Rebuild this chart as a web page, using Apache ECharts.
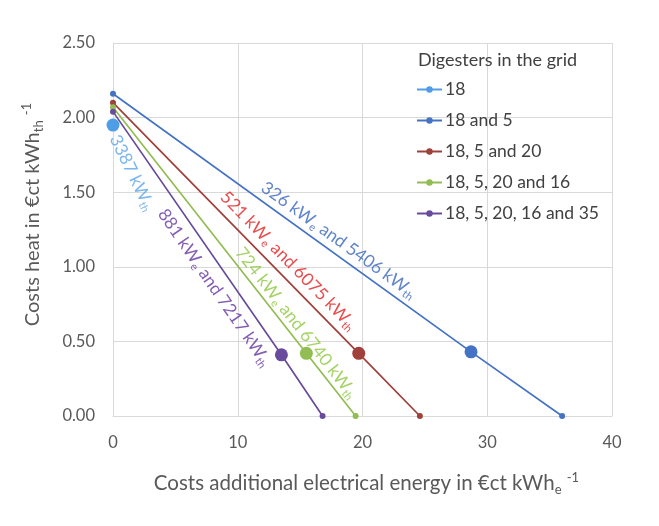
<!DOCTYPE html>
<html><head><meta charset="utf-8">
<script src="https://cdn.jsdelivr.net/npm/echarts@6/dist/echarts.min.js"></script>
<style>html,body{margin:0;padding:0;background:#fff}#c{width:659px;height:526px}</style>
</head><body><div id="c"></div>
<script>
// ---- data ----
const seriesNames = ['18', '18 and 5', '18, 5 and 20', '18, 5, 20 and 16', '18, 5, 20, 16 and 35'];
const elecCosts = [[0], [0, 28.7, 36.0], [0, 19.7, 24.6], [0, 15.5, 19.45], [0, 13.5, 16.8]];
const heatCosts = [[1.95], [2.16, 0.43, 0], [2.10, 0.42, 0], [2.07, 0.42, 0], [2.04, 0.41, 0]];
const operatingPointIndex = [0, 1, 1, 1, 1];
const annotationTexts = [
  '3387 kW{sub|th}',
  '326 kW{sub|e} and 5406 kW{sub|th}',
  '521 kW{sub|e} and 6075 kW{sub|th}',
  '724 kW{sub|e} and 6740 kW{sub|th}',
  '881 kW{sub|e} and 7217 kW{sub|th}'
];
const annotationX = [1.55, 18.1, 14.07, 14.7, 8.15];
const annotationY = [1.63, 1.18, 1.042, 0.625, 0.86];
const xTickValues = [0, 10, 20, 30, 40];
const yTickValues = [0, 0.5, 1, 1.5, 2, 2.5];

// ---- styles ----
const lineColors = ['#4E9DE6', '#4472C4', '#A0403B', '#92BD52', '#684B9C'];
const labelColors = ['#5AA5EA', '#3A67BB', '#E41E1E', '#8CC83F', '#6433A0'];
const labelAngles = [64, 35.7, 45.6, 51.9, 55.6];
const FONT = 'Lato, "Noto Sans", sans-serif';
const gridColor = '#D9D9D9';
const textColor = '#595959';

const chart = echarts.init(document.getElementById('c'), null, {renderer: 'canvas'});

const lineSeries = seriesNames.map((name, i) => ({
  name: name,
  type: 'line',
  color: lineColors[i],
  symbol: 'circle',
  lineStyle: {width: 1.7, color: lineColors[i]},
  itemStyle: {color: lineColors[i]},
  z: 3,
  data: elecCosts[i].map((x, j) => ({
    value: [x, heatCosts[i][j]],
    symbolSize: j === operatingPointIndex[i] ? 13 : 6
  }))
}));

const annotationSeries = annotationTexts.map((t, i) => ({
  type: 'scatter',
  silent: true,
  symbolSize: 0,
  z: 5,
  legendHoverLink: false,
  data: [[annotationX[i], annotationY[i]]],
  label: {
    show: true,
    position: 'inside',
    rotate: -labelAngles[i],
    formatter: t,
    color: labelColors[i],
    fontFamily: FONT,
    fontSize: 17.5,
    lineHeight: 21,
    rich: {
      sub: {fontSize: 11, color: labelColors[i], fontFamily: FONT, verticalAlign: 'bottom', lineHeight: 21}
    }
  }
}));

const rich = {
  sub: {fontSize: 13, color: textColor, fontFamily: FONT, verticalAlign: 'bottom', lineHeight: 25},
  sup: {fontSize: 13, color: textColor, fontFamily: FONT, verticalAlign: 'top', lineHeight: 25}
};

chart.setOption({
  animation: false,
  backgroundColor: '#fff',
  textStyle: {fontFamily: FONT},
  title: {
    text: 'Digesters in the grid',
    left: 418, top: 49, padding: 0,
    textStyle: {fontFamily: FONT, fontSize: 18, fontWeight: 'normal', color: '#404040', lineHeight: 22}
  },
  legend: {
    data: seriesNames,
    orient: 'vertical',
    left: 416, top: 80,
    padding: 0,
    itemWidth: 25, itemHeight: 8, itemGap: 12,
    textStyle: {fontFamily: FONT, fontSize: 17.5, color: '#404040', lineHeight: 19, padding: [0, 0, 0, -2]}
  },
  grid: {left: 113, right: 47, top: 43, bottom: 110, containLabel: false},
  xAxis: {
    type: 'value', min: xTickValues[0], max: xTickValues[xTickValues.length - 1], interval: xTickValues[1] - xTickValues[0],
    axisLine: {show: true, lineStyle: {color: gridColor, width: 1}},
    axisTick: {show: false},
    splitLine: {show: true, lineStyle: {color: gridColor, width: 1}},
    axisLabel: {fontFamily: FONT, fontSize: 16.5, color: textColor, margin: 18},
    name: 'Costs additional electrical energy in €ct kWh{sub|e} {sup|-1}',
    nameLocation: 'middle', nameGap: 55,
    nameTextStyle: {fontFamily: FONT, fontSize: 20.5, color: textColor, lineHeight: 25, rich: rich, padding: [0, 0, 0, 8]}
  },
  yAxis: {
    type: 'value', min: yTickValues[0], max: yTickValues[yTickValues.length - 1], interval: yTickValues[1] - yTickValues[0],
    axisLine: {show: true, lineStyle: {color: gridColor, width: 1}},
    axisTick: {show: false},
    splitLine: {show: true, lineStyle: {color: gridColor, width: 1}},
    axisLabel: {fontFamily: FONT, fontSize: 16.5, color: textColor, margin: 18, formatter: v => v.toFixed(2)},
    name: 'Costs heat in €ct kWh{sub|th} {sup|-1}',
    nameLocation: 'middle', nameGap: 68,
    nameTextStyle: {fontFamily: FONT, fontSize: 20, color: textColor, lineHeight: 25, rich: rich, padding: [0, 0, 0, 30]}
  },
  series: lineSeries.concat(annotationSeries)
});
</script></body></html>
